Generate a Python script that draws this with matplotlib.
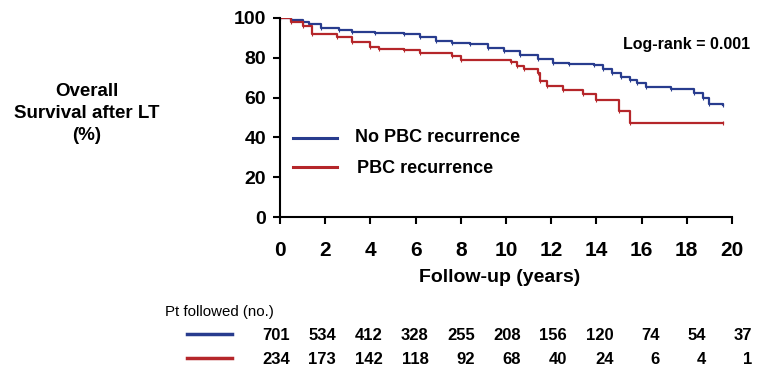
import matplotlib
matplotlib.use("Agg")
from matplotlib import pyplot as plt

plt.rcParams['font.family'] = ['Liberation Sans', 'DejaVu Sans']

# Kaplan-Meier curves (years, % surviving)
t_no = [0, 0.5, 1.0, 1.3, 1.8, 2.6, 3.2, 4.2, 5.5, 6.2, 6.9, 7.6, 8.4, 9.2, 9.9, 10.6,
        11.4, 12.1, 12.8, 13.9, 14.3, 14.7, 15.1, 15.5, 15.8, 16.2, 17.3, 18.3, 18.7, 19.0, 19.6]
s_no = [100, 99, 98, 97, 95, 94, 93, 92.5, 92, 90.5, 88.5, 87.5, 87, 85, 83.5, 81.5,
        79.5, 77.5, 77, 76.5, 74.5, 72.5, 70.5, 69, 67.5, 65.5, 64.5, 62.5, 60, 57, 56.5]

t_re = [0, 0.5, 1.0, 1.4, 2.5, 3.2, 4.0, 4.4, 5.5, 6.2, 7.6, 8.0, 10.2, 10.5, 10.8, 11.4,
        11.5, 11.8, 12.5, 13.4, 14.0, 15.0, 15.5, 19.6]
s_re = [100, 98, 96, 92, 90.5, 88, 85.5, 84.5, 84, 82.5, 81, 79, 78, 76, 74.5, 72.5,
        68.5, 66, 64, 62, 59, 53.5, 47, 47]

years = [0, 2, 4, 6, 8, 10, 12, 14, 16, 18, 20]
n_no = [701, 534, 412, 328, 255, 208, 156, 120, 74, 54, 37]
n_re = [234, 173, 142, 118, 92, 68, 40, 24, 6, 4, 1]

blue = '#283c8e'
red = '#b5262a'

fig = plt.figure(figsize=(7.59, 3.72), dpi=100)
W, H = 759.0, 372.0
ax = fig.add_axes([280 / W, 1 - 217 / H, 452 / W, 199 / H])

ax.step(t_no, s_no, where='post', color=blue, lw=1.6, marker='|', ms=3, mew=0.8)
ax.step(t_re, s_re, where='post', color=red, lw=1.6, marker='|', ms=3, mew=0.8)

ax.set_xlim(0, 20)
ax.set_ylim(0, 100)
ax.set_xticks(years)
ax.set_yticks([0, 20, 40, 60, 80, 100])
ax.spines['top'].set_visible(False)
ax.spines['right'].set_visible(False)
ax.spines['left'].set_linewidth(1.5)
ax.spines['bottom'].set_linewidth(1.5)
ax.tick_params(direction='out', length=5, width=1.5)
ax.tick_params(axis='x', labelsize=15, pad=12)
ax.tick_params(axis='y', labelsize=14, pad=5)
for lab in ax.get_xticklabels() + ax.get_yticklabels():
    lab.set_fontweight('bold')

# x label
fig.text(500 / W, 1 - 278 / H, 'Follow-up (years)', ha='center', va='center',
         fontsize=14, fontweight='bold')
# y label, one text per line
ylab = ['Overall', 'Survival after LT', '(%)']
ylab_y = [91, 114, 135]
for s, yy in zip(ylab, ylab_y):
    fig.text(87 / W, 1 - yy / H, s, ha='center', va='center',
             fontsize=13.5, fontweight='bold')

# legend inside plot
fig.lines.append(plt.Line2D([293 / W, 337 / W], [1 - 138 / H] * 2, color=blue, lw=2.2,
                            transform=fig.transFigure))
fig.lines.append(plt.Line2D([293 / W, 337 / W], [1 - 167 / H] * 2, color=red, lw=2.2,
                            transform=fig.transFigure))
fig.text(355 / W, 1 - 138 / H, 'No PBC recurrence', ha='left', va='center',
         fontsize=13, fontweight='bold')
fig.text(357 / W, 1 - 168 / H, 'PBC recurrence', ha='left', va='center',
         fontsize=13, fontweight='bold')

fig.text(750 / W, 1 - 45 / H, 'Log-rank = 0.001', ha='right', va='center',
         fontsize=11.5, fontweight='bold')

# numbers at risk table
fig.text(165 / W, 1 - 312 / H, 'Pt followed (no.)', ha='left', va='center', fontsize=10.8)
fig.lines.append(plt.Line2D([187 / W, 232 / W], [1 - 334 / H] * 2, color=blue, lw=2.5,
                            transform=fig.transFigure))
fig.lines.append(plt.Line2D([187 / W, 232 / W], [1 - 358 / H] * 2, color=red, lw=2.5,
                            transform=fig.transFigure))
for i in range(len(years)):
    xr = (290 + 46.2 * i) / W
    fig.text(xr, 1 - 335 / H, str(n_no[i]), ha='right', va='center',
             fontsize=12, fontweight='bold')
    fig.text(xr, 1 - 359 / H, str(n_re[i]), ha='right', va='center',
             fontsize=12, fontweight='bold')

fig.savefig('out.png', dpi=100)
